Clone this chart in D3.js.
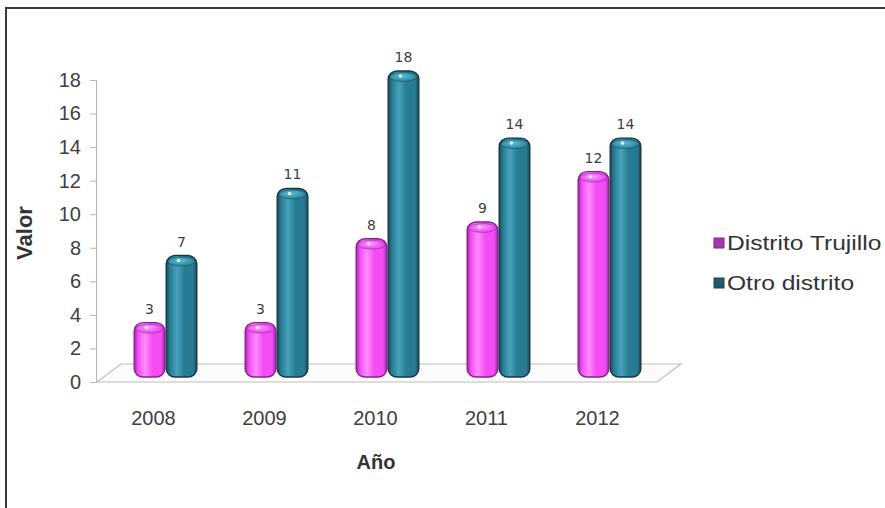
<!DOCTYPE html>
<html>
<head>
<meta charset="utf-8">
<script src="https://cdn.jsdelivr.net/npm/d3@7"></script>
<style>
  html, body { margin: 0; padding: 0; background: #fff; }
  svg { display: block; font-family: Arial, "Liberation Sans", sans-serif; }
</style>
</head>
<body>
<svg id="chart" width="885" height="508"></svg>
<script>
// Casos por año
const years = ["2008", "2009", "2010", "2011", "2012"];
const seriesNames = ["Distrito Trujillo", "Otro distrito"];
const trujillo = [3, 3, 8, 9, 12];
const otro = [7, 11, 18, 14, 14];
const yTicks = [0, 2, 4, 6, 8, 10, 12, 14, 16, 18];

const svg = d3.select("#chart");
const defs = svg.append("defs");

// cylinder shading: dark edges, bright band left of centre
function cylGradient(id, dark, mid, light) {
  const g = defs.append("linearGradient").attr("id", id)
    .attr("x1", "0%").attr("x2", "100%").attr("y1", "0%").attr("y2", "0%");
  [[0, dark], [0.12, mid], [0.35, light], [0.6, mid], [0.88, mid], [1, dark]]
    .forEach(([o, c]) => g.append("stop").attr("offset", o).attr("stop-color", c));
}
cylGradient("gPink", "#a02aa8", "#f24cf2", "#ff8cff");
cylGradient("gTeal", "#1b4a58", "#277b92", "#45a3bb");

const capGrad = (id, c1, c2) => {
  const g = defs.append("radialGradient").attr("id", id)
    .attr("cx", "45%").attr("cy", "40%").attr("r", "60%");
  g.append("stop").attr("offset", 0).attr("stop-color", c1);
  g.append("stop").attr("offset", 1).attr("stop-color", c2);
};
capGrad("cPink", "#ff9cff", "#e040e6");
capGrad("cTeal", "#5cc0d8", "#2a7f96");

// frame
svg.append("rect").attr("x", 6).attr("y", 8).attr("width", 900).attr("height", 520)
  .attr("fill", "none").attr("stroke", "#3a3a3a").attr("stroke-width", 2);

const x = d3.scaleBand().domain(years).range([100, 655]);
const y = d3.scaleLinear().domain([0, 18]).range([382, 80]);

const depthX = 24, depthY = -18;   // floor depth offset
const barW = 32;

// floor
const x0 = 97, x1 = 657, yf = y(0);
svg.append("path")
  .attr("d", `M${x0},${yf} L${x1},${yf} L${x1 + depthX},${yf + depthY} L${x0 + depthX},${yf + depthY} Z`)
  .attr("fill", "#fbfbfb").attr("stroke", "#bdbdbd").attr("stroke-width", 1.2);

// y axis
const yAxis = svg.append("g").attr("transform", `translate(${x0},0)`)
  .call(d3.axisLeft(y).tickValues(yTicks).tickSize(7).tickPadding(9));
yAxis.select(".domain").attr("stroke", "#b5b5b5").attr("d", `M-0.5,${y(18)}V${y(0)}`);
yAxis.selectAll(".tick line").attr("stroke", "#b5b5b5");
yAxis.selectAll(".tick text").attr("fill", "#404040").attr("font-size", 20)
  .attr("font-family", "Arial, 'Liberation Sans', sans-serif");

// x labels
svg.append("g").selectAll("text").data(years).join("text")
  .attr("x", d => x(d) + x.bandwidth() / 2 - 2)
  .attr("y", 425)
  .attr("text-anchor", "middle").attr("font-size", 20).attr("fill", "#404040")
  .text(d => d);

// axis titles
svg.append("text").attr("x", 376).attr("y", 469).attr("text-anchor", "middle")
  .attr("font-size", 20).attr("font-weight", "bold").attr("fill", "#333").text("Año");
svg.append("text").attr("transform", "translate(32,233) rotate(-90)")
  .attr("text-anchor", "middle").attr("font-size", 22).attr("font-weight", "bold")
  .attr("fill", "#333").text("Valor");

// bars
const series = [
  { name: seriesNames[0], values: trujillo, fill: "url(#gPink)", cap: "url(#cPink)", edge: "#8d1f95", off: -barW },
  { name: seriesNames[1], values: otro, fill: "url(#gTeal)", cap: "url(#cTeal)", edge: "#153a45", off: 0 }
];
const baseY = yf + depthY / 2 - 5;
series.forEach(s => {
  const g = svg.append("g");
  const rows = years.map((yr, i) => ({ yr, v: s.values[i] }));
  const bx = d => x(d.yr) + x.bandwidth() / 2 + depthX / 2 - 2 + s.off;
  const top = d => y(d.v) + depthY / 2;
  g.selectAll("rect.body").data(rows).join("rect").attr("class", "body")
    .attr("x", d => bx(d) + 0.7).attr("width", barW - 1.4)
    .attr("y", top).attr("height", d => baseY + 9 - top(d))
    .attr("rx", 9).attr("ry", 8)
    .attr("fill", s.fill).attr("stroke", s.edge).attr("stroke-width", 1.4);
  g.selectAll("ellipse.cap").data(rows).join("ellipse").attr("class", "cap")
    .attr("cx", d => bx(d) + barW / 2).attr("cy", d => top(d) + 6)
    .attr("rx", barW / 2 - 2.5).attr("ry", 4.5)
    .attr("fill", s.cap).attr("stroke", s.edge).attr("stroke-opacity", 0.5).attr("stroke-width", 0.8);
  g.selectAll("circle.spec").data(rows).join("circle").attr("class", "spec")
    .attr("cx", d => bx(d) + barW / 2 - 3).attr("cy", d => top(d) + 5)
    .attr("r", 1.8).attr("fill", "#ffffff").attr("opacity", 0.8);
  g.selectAll("text").data(rows).join("text")
    .attr("x", d => bx(d) + barW / 2).attr("y", d => top(d) - 9)
    .attr("text-anchor", "middle").attr("font-size", 14).attr("fill", "#404040")
    .attr("font-family", "'DejaVu Sans', sans-serif")
    .text(d => d.v);
});

// legend (text drawn horizontally widened)
const legend = svg.append("g");
const legColors = ["#a338b0", "#24596a"];
seriesNames.forEach((n, i) => {
  const ly = 243 + i * 40;
  legend.append("rect").attr("x", 714).attr("y", ly - 5).attr("width", 10).attr("height", 10)
    .attr("fill", legColors[i]).attr("stroke", d3.color(legColors[i]).darker(0.8));
  legend.append("text").attr("transform", `translate(727,${ly + 7}) scale(1.23,1)`)
    .attr("font-size", 20).attr("fill", "#333").text(n);
});
</script>
</body>
</html>
